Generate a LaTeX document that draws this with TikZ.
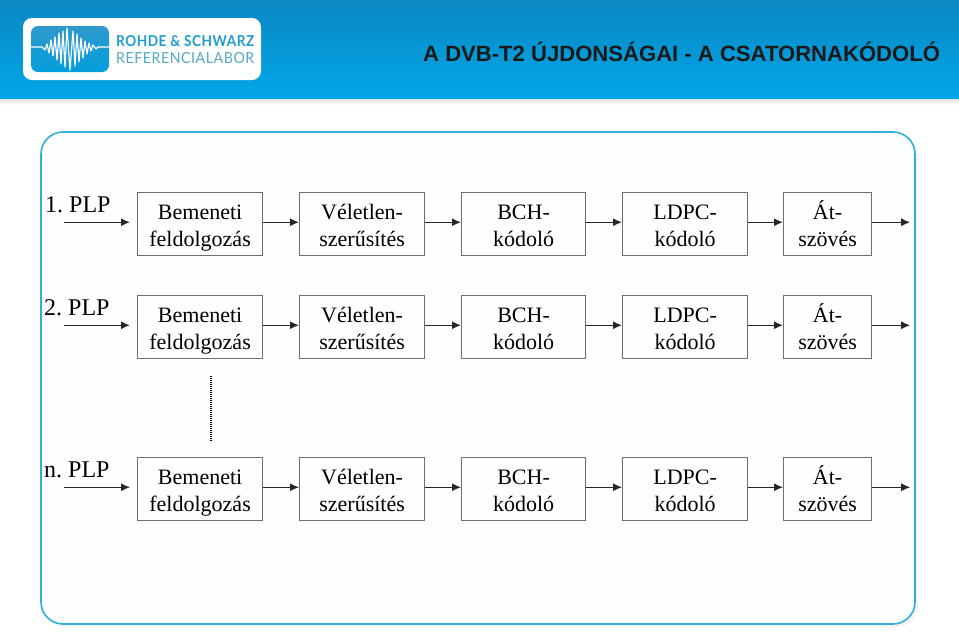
\documentclass[tikz,border=0pt]{standalone}
\usepackage{fontspec}
\setmainfont{Liberation Serif}
\newfontfamily\arialf{Liberation Sans}
\newfontfamily\logof[LetterSpace=4]{Lato}
\usetikzlibrary{arrows.meta,positioning}
\frenchspacing
\definecolor{bannerTop}{HTML}{0A88C2}
\definecolor{bannerBot}{HTML}{02A6E8}
\definecolor{panelline}{HTML}{2FB0D6}
\definecolor{panelfill}{HTML}{FCFEFF}
\definecolor{boxline}{HTML}{6E6E6E}
\definecolor{logotexta}{HTML}{1E9CCF}
\definecolor{logotextb}{HTML}{55A8C8}
\def\flowlw{1.4pt}
\newcommand{\twolines}[2]{\rule{0pt}{23pt}#1\\#2\rule[-5pt]{0pt}{5pt}}
\tikzset{
  blockbox/.style={draw=boxline,line width=1.2pt,fill=panelfill,align=center,minimum height=62.5pt,inner sep=0pt,font=\frenchspacing\fontsize{22}{26.5}\selectfont},
  flow/.style={draw=black!85,line width=\flowlw,-{Latex[length=9pt,width=8pt]}},
  plplabel/.style={anchor=base west,inner sep=0pt,font=\frenchspacing\fontsize{24}{28}\selectfont}
}
\newcommand{\plprow}[4]{%
  \node[blockbox,anchor=north west,minimum width=125pt] (#1a) at (137,#2) {\twolines{Bemeneti}{feldolgozás}};
  \node[blockbox,anchor=north west,minimum width=125pt] (#1b) at (299,#2) {\twolines{Véletlen-}{szerűsítés}};
  \node[blockbox,anchor=north west,minimum width=124pt] (#1c) at (461,#2) {\twolines{BCH-}{kódoló}};
  \node[blockbox,anchor=north west,minimum width=125pt] (#1d) at (622,#2) {\twolines{LDPC-}{kódoló}};
  \node[blockbox,anchor=north west,minimum width=88pt] (#1e) at (783,#2) {\twolines{Át-}{szövés}};
  \coordinate (#1in) at ([xshift=-73pt,yshift=1.6pt]#1a.west);
  \coordinate (#1stop) at ([xshift=-7pt,yshift=1.6pt]#1a.west);
  \coordinate (#1out) at ([xshift=38pt,yshift=1.6pt]#1e.east);
  \node[plplabel] (#1l) at (#4,#2+20) {#3};
  \draw[flow] (#1in) -- (#1stop);
  \draw[flow] ([yshift=1.6pt]#1a.east) -- ([yshift=1.6pt]#1b.west);
  \draw[flow] ([yshift=1.6pt]#1b.east) -- ([yshift=1.6pt]#1c.west);
  \draw[flow] ([yshift=1.6pt]#1c.east) -- ([yshift=1.6pt]#1d.west);
  \draw[flow] ([yshift=1.6pt]#1d.east) -- ([yshift=1.6pt]#1e.west);
  \draw[flow] ([yshift=1.6pt]#1e.east) -- (#1out);
}
\begin{document}
\begin{tikzpicture}[x=1pt,y=-1pt]
\useasboundingbox (0,0) rectangle (959,633);
\fill[white] (0,0) rectangle (959,633);
% banner
\shade[top color=black!14,bottom color=white] (0,98) rectangle (959,105);
\shade[top color=bannerTop,bottom color=bannerBot] (0,0) rectangle (959,98);
% logo
\fill[white,rounded corners=9pt] (23,18) rectangle (261,80);
\shade[top color=bannerTop!85!white,bottom color=bannerBot!95!black,rounded corners=7pt] (31,26) rectangle (109,72);
\draw[white,line width=1.2pt,line join=round]
 (31,47) -- (42,47) -- (45,50) -- (47,44) -- (49,53) -- (51,40) -- (53,56) -- (55,37) -- (57,60) -- (59,33) -- (61,64) -- (63,31) -- (65,67) -- (67,28) -- (70,70) -- (73,31) -- (75,66) -- (77,34) -- (79,62) -- (81,38) -- (83,58) -- (85,41) -- (87,54) -- (89,43) -- (91,51) -- (93,45) -- (96,49) -- (98,47) -- (109,47);
\node[anchor=west,inner sep=0pt,text=logotexta] (logo1) at (116,41.5) {\resizebox{138pt}{11pt}{\logof\bfseries ROHDE \& SCHWARZ}};
\node[anchor=west,inner sep=0pt,text=logotextb] (logo2) at (116,58) {\resizebox{138pt}{11pt}{\logof REFERENCIALABOR}};
\node[anchor=west,inner sep=0pt,font=\arialf\bfseries\fontsize{22.08}{26}\selectfont,text=black!90] (title) at (423,52) {A DVB-T2 ÚJDONSÁGAI - A CSATORNAKÓDOLÓ};
% panel
\fill[black!5,rounded corners=22pt] (43,134) rectangle (918,627);
\draw[panelline,line width=1.6pt,fill=panelfill,rounded corners=22pt] (41,132) rectangle (915,624);
\plprow{r}{192}{1. PLP}{45}
\plprow{s}{295}{2. PLP}{44}
\def\flowlw{1.1pt}
\plprow{t}{457}{n. PLP}{44}
\coordinate (dota) at (211,376);
\coordinate (dotb) at (211,442);
\draw[black,line width=1.5pt,dash pattern=on 1.2pt off 0.8pt] (dota) -- (dotb);
\end{tikzpicture}
\end{document}
